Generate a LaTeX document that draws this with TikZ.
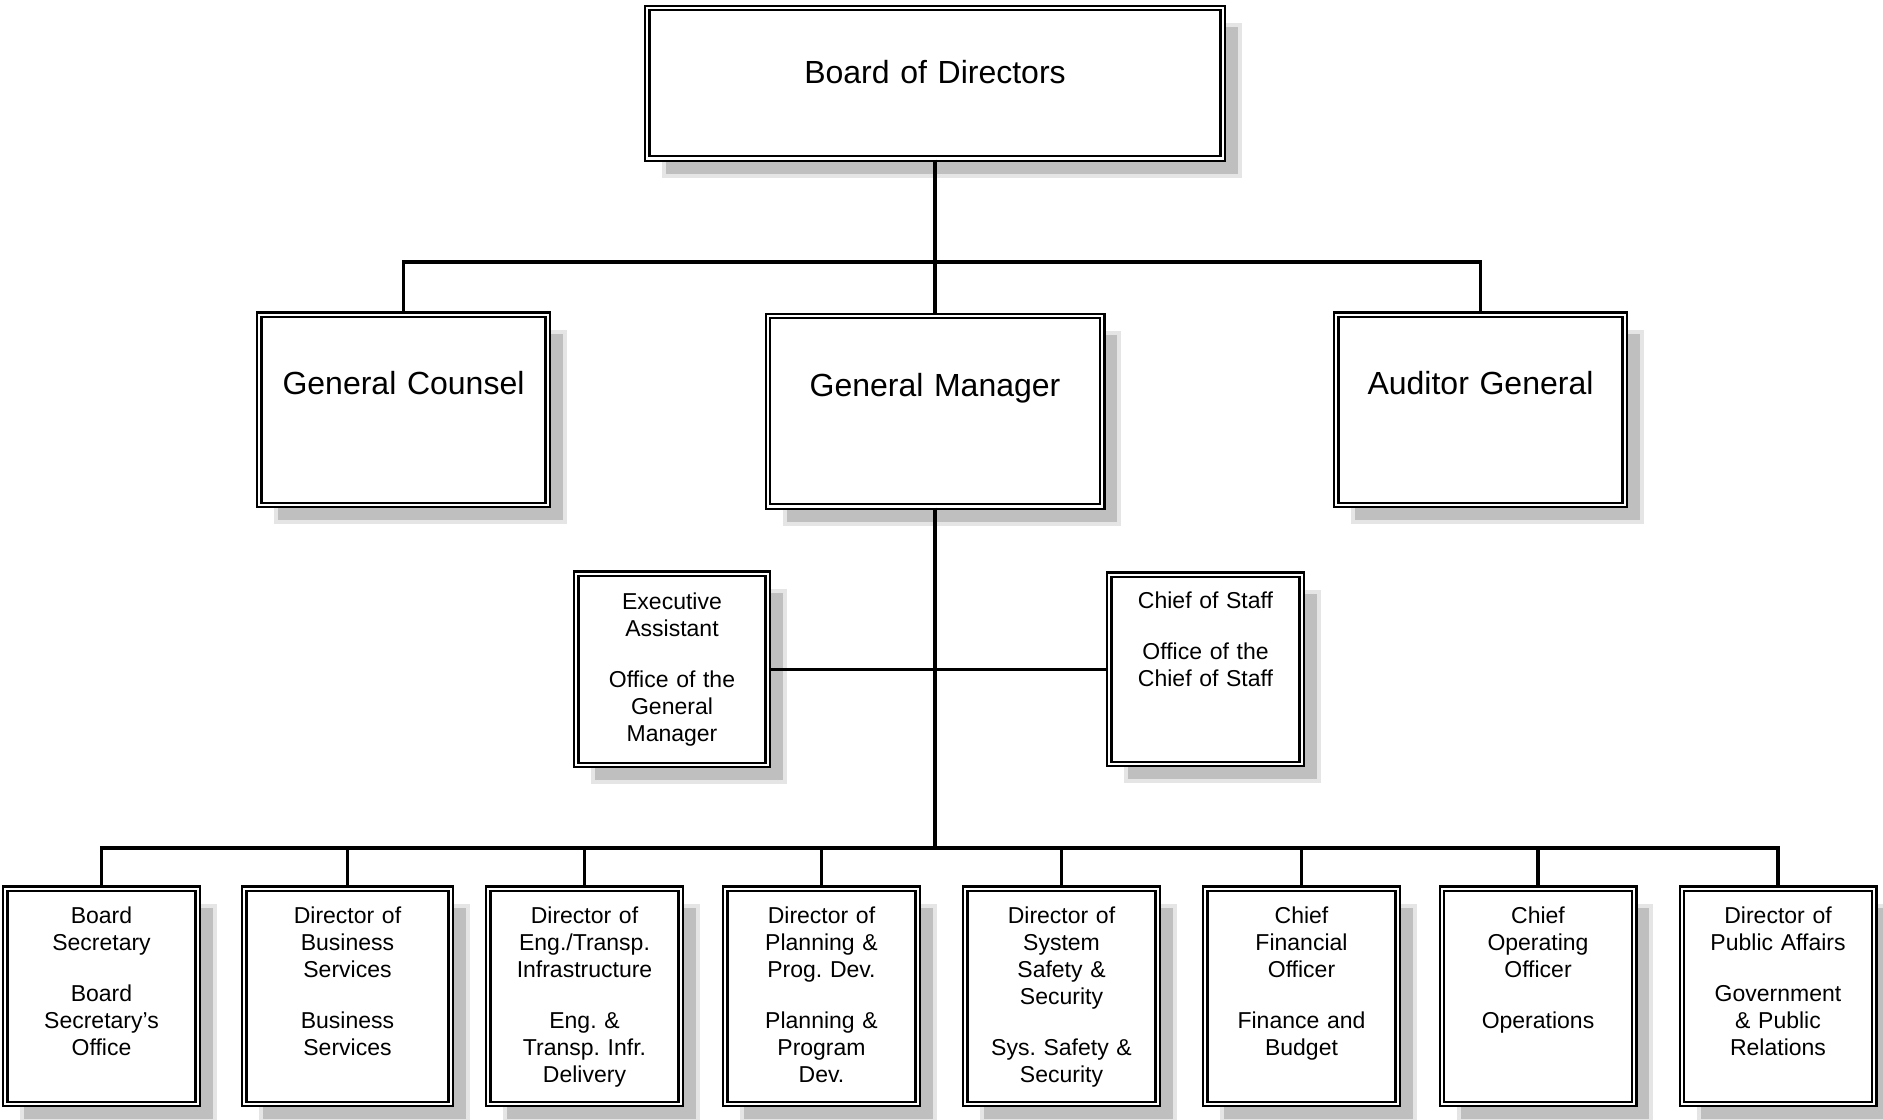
\documentclass[tikz,border=0pt]{standalone}
\usepackage{fontspec}
\setmainfont{Liberation Sans}
\usepackage{tikz}
\usetikzlibrary{shadows}
\frenchspacing

\begin{document}
\begin{tikzpicture}[x=0.5pt, y=-0.5pt,
                orgbox/.style={draw, line width=1.1pt, double=white, double distance=1.1pt, fill=white,
                    inner sep=0pt, anchor=north, align=center,
                    drop shadow={shadow xshift=8.5pt, shadow yshift=-8.5pt, fill=black!25, draw=black!10, line width=2pt, opacity=1}},
                bigbox/.style={orgbox, font=\fontsize{16}{19}\selectfont, text height=40pt, text depth=55.2pt},
                unitbox/.style={orgbox, font=\fontsize{11.5}{13.5}\selectfont, text width=96.2pt, text height=17.4pt, text depth=90.3pt},
                conn/.style={line width=1.7pt}]
                \useasboundingbox (0,0) rectangle (1883,1119);
                \node [orgbox, font=\fontsize{16}{19}\selectfont, text width=287.7pt, text height=37.5pt, text depth=37.7pt] (board) at (935,7) {Board of Directors};
                \node [bigbox, text width=144.2pt] (counsel) at (403.5,313.5) {General Counsel};
                \node [bigbox, text width=167.2pt] (gm) at (935,315) {General Manager};
                \node [bigbox, text width=144.2pt] (auditor) at (1480.5,313.5) {Auditor General};
                \node [unitbox, text width=95.7pt, text height=17.9pt, text depth=77.8pt] (execasst) at (672,572.5) {Executive\\Assistant\\[12pt]Office of the\\General\\Manager};
                \node [unitbox, text height=17pt, text depth=77.7pt] (chiefstaff) at (1205.5,573.5) {Chief of Staff\\[12pt]Office of the\\Chief of Staff};
                \node [unitbox] (secretary) at (101.5,887.5) {Board\\Secretary\\[12pt]Board\\Secretary's\\Office};
                \node [unitbox, text width=103.2pt] (business) at (347.5,887.5) {Director of\\Business\\Services\\[12pt]Business\\Services};
                \node [unitbox] (engineering) at (584.5,887.5) {Director of\\Eng./Transp.\\Infrastructure\\[12pt]Eng. \&\\Transp. Infr.\\Delivery};
                \node [unitbox] (planning) at (821.5,887.5) {Director of\\Planning \&\\Prog. Dev.\\[12pt]Planning \&\\Program\\Dev.};
                \node [unitbox] (safety) at (1061.5,887.5) {Director of\\System\\Safety \&\\Security\\[12pt]Sys. Safety \&\\Security};
                \node [unitbox] (finance) at (1301.5,887.5) {Chief\\Financial\\Officer\\[12pt]Finance and\\Budget};
                \node [unitbox] (operations) at (1538,887.5) {Chief\\Operating\\Officer\\[12pt]Operations};
                \node [unitbox] (publicaffairs) at (1778,887.5) {Director of\\Public Affairs\\[12pt]Government\\\& Public\\Relations};
                \coordinate (topbar) at (935,262);
                \coordinate (lowbar) at (935,848);
                \draw [conn] (board.south) -- (gm.north);
                \draw [conn] (counsel.north) -- (counsel.north |- topbar) -- (auditor.north |- topbar) -- (auditor.north);
                \draw [conn] (gm.south) -- (gm.south |- lowbar);
                \draw [conn] (execasst.east) -- (chiefstaff.west);
                \draw [conn] (secretary.north) -- (secretary.north |- lowbar) -- (publicaffairs.north |- lowbar) -- (publicaffairs.north);
                \foreach \unit in {business,engineering,planning,safety,finance,operations}
                    \draw [conn] (\unit.north) -- (\unit.north |- lowbar);
            \end{tikzpicture}
\end{document}
